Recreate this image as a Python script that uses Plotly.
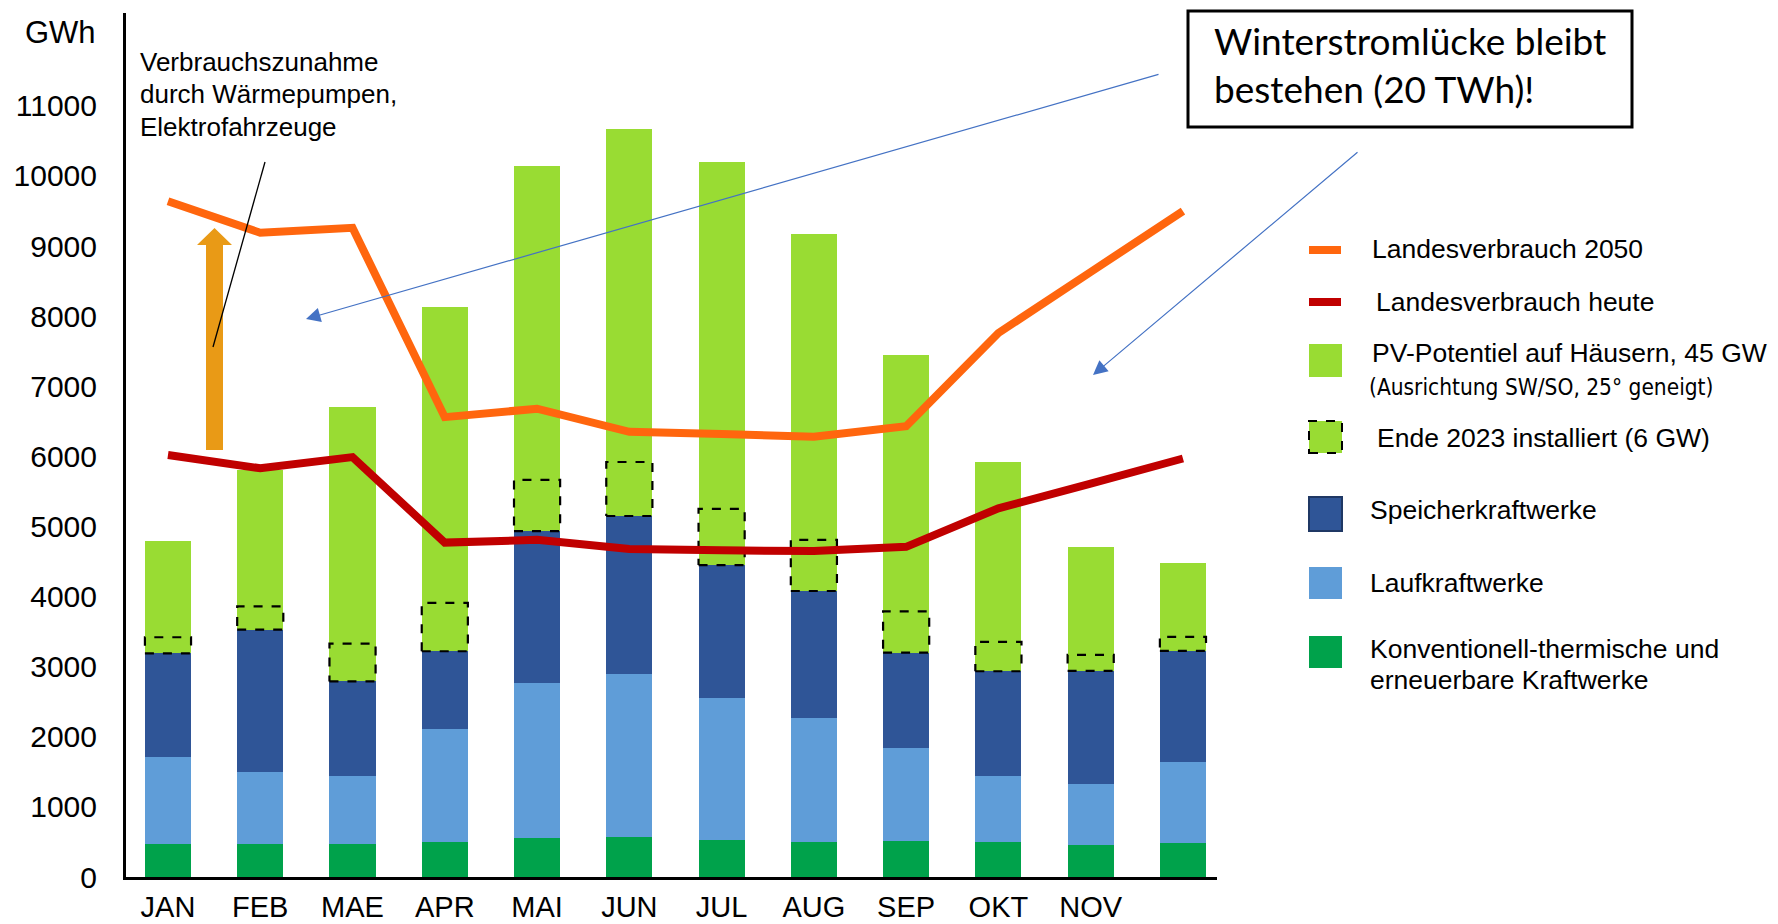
import plotly.graph_objects as go

# Monthly energy balance (GWh)
months = ["JAN", "FEB", "MAE", "APR", "MAI", "JUN", "JUL", "AUG", "SEP", "OKT", "NOV", ""]
thermisch = [470, 470, 470, 500, 555, 570, 530, 500, 520, 505, 460, 485]
laufkraft = [1240, 1030, 970, 1610, 2210, 2330, 2020, 1770, 1320, 940, 860, 1160]
speicher = [1480, 2030, 1350, 1110, 2170, 2250, 1900, 1810, 1360, 1490, 1620, 1580]
pv_potential = [1600, 2270, 3920, 4910, 5210, 5520, 5750, 5090, 4250, 2980, 1770, 1260]
pv_installiert = [230, 330, 540, 690, 730, 770, 800, 730, 590, 420, 230, 200]
verbrauch_2050 = [9640, 9190, 9260, 6560, 6680, 6350, 6320, 6280, 6430, 7760, 8630, 9500]
verbrauch_heute = [6020, 5830, 5990, 4770, 4810, 4680, 4660, 4650, 4710, 5260, 5610, 5970]
y_ticks = [0, 1000, 2000, 3000, 4000, 5000, 6000, 7000, 8000, 9000, 10000, 11000]

C_THERM = "#00A24B"
C_LAUF = "#5F9DD8"
C_SPEICHER = "#2F5597"
C_PV = "#99DC33"
C_2050 = "#FF660E"
C_HEUTE = "#C00000"
C_ARROW = "#4472C4"

FONT = "Liberation Sans, Arial, sans-serif"
NARROW = "Liberation Sans Narrow, Arial Narrow, DejaVu Sans Condensed, Liberation Sans, sans-serif"
BOXFONT = "Lato, Carlito, sans-serif"

W, H = 1778, 924
ML, MR, MT, MB = 126, 561, 13, 47
PW, PH = W - ML - MR, H - MT - MB

def px(x):
    return (x - ML) / PW

def py(y):
    return (H - MB - y) / PH

idx = list(range(len(months)))
bar_w = 0.5

fig = go.Figure()
for vals, col, name in [
    (thermisch, C_THERM, "Konventionell-thermische und erneuerbare Kraftwerke"),
    (laufkraft, C_LAUF, "Laufkraftwerke"),
    (speicher, C_SPEICHER, "Speicherkraftwerke"),
    (pv_potential, C_PV, "PV-Potentiel auf Häusern, 45 GW"),
]:
    fig.add_trace(go.Bar(x=idx, y=vals, width=bar_w, name=name,
                         marker=dict(color=col, line=dict(width=0))))

# dashed outline: PV installed by end of 2023, sitting on top of the hydro stack
bx, by = [], []
for i in idx:
    base = thermisch[i] + laufkraft[i] + speicher[i]
    top = base + pv_installiert[i]
    l, r = i - bar_w / 2, i + bar_w / 2
    bx += [l, r, r, l, l, None]
    by += [base, base, top, top, base, None]
fig.add_trace(go.Scatter(x=bx, y=by, mode="lines", name="Ende 2023 installiert (6 GW)",
                         line=dict(color="black", width=2.2, dash="dash")))

fig.add_trace(go.Scatter(x=idx, y=verbrauch_heute, mode="lines", name="Landesverbrauch heute",
                         line=dict(color=C_HEUTE, width=8)))
fig.add_trace(go.Scatter(x=idx, y=verbrauch_2050, mode="lines", name="Landesverbrauch 2050",
                         line=dict(color=C_2050, width=8)))

shapes = []
annotations = []

def text(t, x, y, size=26.5, family=FONT, xanchor="left"):
    annotations.append(dict(text=t, x=px(x), y=py(y), xref="paper", yref="paper",
                            xanchor=xanchor, yanchor="middle", showarrow=False,
                            font=dict(family=family, size=size, color="black")))

def rect(x0, y0, x1, y1, fill, line=None):
    shapes.append(dict(type="rect", xref="paper", yref="paper",
                       x0=px(x0), x1=px(x1), y0=py(y1), y1=py(y0),
                       fillcolor=fill, line=line or dict(width=0), layer="above"))

# legend
shapes.append(dict(type="line", xref="paper", yref="paper", x0=px(1309), x1=px(1341),
                   y0=py(250), y1=py(250), line=dict(color=C_2050, width=8)))
shapes.append(dict(type="line", xref="paper", yref="paper", x0=px(1309), x1=px(1341),
                   y0=py(302), y1=py(302), line=dict(color=C_HEUTE, width=8)))
rect(1309, 344, 1342, 377, C_PV)
rect(1309, 421, 1342, 453, C_PV, dict(color="black", width=2, dash="dash"))
rect(1309, 497, 1342, 531, C_SPEICHER, dict(color="#1F3864", width=2))
rect(1309, 567, 1342, 599, C_LAUF)
rect(1309, 636, 1342, 668, C_THERM)

text("Landesverbrauch 2050", 1370, 249)
text("Landesverbrauch heute", 1374, 302)
text("PV-Potentiel auf Häusern, 45 GW", 1370, 353)
text("(Ausrichtung SW/SO, 25° geneigt)", 1367, 387, size=22.5, family=NARROW)
text("Ende 2023 installiert (6 GW)", 1375, 438)
text("Speicherkraftwerke", 1368, 510)
text("Laufkraftwerke", 1368, 583)
text("Konventionell-thermische und", 1368, 649)
text("erneuerbare Kraftwerke", 1368, 680)

# unit label above the value axis
text("GWh", 98, 33, size=31, xanchor="right")

# callout: growth of demand
text("Verbrauchszunahme", 138, 62, size=26)
text("durch Wärmepumpen,", 138, 94, size=26)
text("Elektrofahrzeuge", 138, 127, size=26)
arrow_path = "M {a},{b} L {c},{b} L {c},{d} L {e},{d} L {f},{g} L {h},{d} L {i},{d} L {i},{b} Z".format(
    a=px(206), b=py(450), c=px(223), d=py(245), e=px(232), f=px(214.5), g=py(228),
    h=px(197), i=px(206))
shapes.append(dict(type="path", xref="paper", yref="paper", path=arrow_path,
                   fillcolor="#E99A16", line=dict(width=0), layer="above"))
shapes.append(dict(type="line", xref="paper", yref="paper", x0=px(265), y0=py(162),
                   x1=px(213), y1=py(347), line=dict(color="black", width=1.3), layer="above"))

# boxed statement
rect(1188, 11, 1632, 127, "white", dict(color="black", width=3))
text("Winterstromlücke bleibt", 1212, 40, size=37, family=BOXFONT)
text("bestehen (20 TWh)!", 1212, 88, size=37, family=BOXFONT)

# pointer arrows from the statement into the winter gap
for tip, tail in [((306, 319), (1160, 74)), ((1093, 375), (1359, 151))]:
    annotations.append(dict(text="", x=px(tip[0]), y=py(tip[1]), xref="paper", yref="paper",
                            ax=tail[0] - tip[0], ay=tail[1] - tip[1], axref="pixel", ayref="pixel",
                            showarrow=True, arrowhead=2, arrowsize=2.4, arrowwidth=1.2,
                            arrowcolor=C_ARROW, standoff=0, startstandoff=0))

fig.update_layout(
    width=W, height=H,
    margin=dict(l=ML, r=MR, t=MT, b=MB, pad=0),
    paper_bgcolor="white", plot_bgcolor="white",
    barmode="stack", bargap=0.5, showlegend=False,
    font=dict(family=FONT, color="black"),
    shapes=shapes, annotations=annotations,
    xaxis=dict(range=[-0.455, 11.369], tickmode="array", tickvals=idx, ticktext=months,
               showline=True, linecolor="black", linewidth=3, showgrid=False, zeroline=False,
               ticks="", tickfont=dict(size=29, family=FONT, color="black"),
               ticklabelstandoff=2, automargin=False, fixedrange=True),
    yaxis=dict(range=[0, 12325], tickmode="array", tickvals=y_ticks,
               ticktext=[str(v) for v in y_ticks],
               showline=True, linecolor="black", linewidth=3, showgrid=False, zeroline=False,
               ticks="", tickfont=dict(size=30, family=FONT, color="black"),
               ticklabelstandoff=20, automargin=False, fixedrange=True),
)

fig.write_html("out.html")
